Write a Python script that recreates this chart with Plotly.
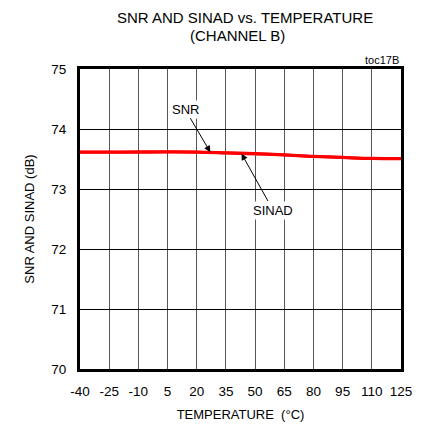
import plotly.graph_objects as go

temps = [-40, -25, -10, 5, 20, 35, 50, 65, 80, 95, 110, 125]
snr = [73.617, 73.618, 73.619, 73.620, 73.618, 73.605, 73.590, 73.570, 73.545, 73.528, 73.512, 73.508]
sinad = [73.612, 73.613, 73.614, 73.615, 73.613, 73.600, 73.585, 73.565, 73.540, 73.523, 73.507, 73.503]
xticks = [-40, -25, -10, 5, 20, 35, 50, 65, 80, 95, 110, 125]
yticks = [70, 71, 72, 73, 74, 75]

FONT = "Liberation Sans, Arial, sans-serif"

fig = go.Figure()
fig.add_trace(go.Scatter(x=temps, y=sinad, mode="lines", line=dict(color="#ff0000", width=3, shape="spline"), showlegend=False))
fig.add_trace(go.Scatter(x=temps, y=snr, mode="lines", line=dict(color="#ff0000", width=3, shape="spline"), showlegend=False))

fig.update_layout(
    width=427, height=428,
    margin=dict(l=80, r=26, t=69, b=59),
    paper_bgcolor="white", plot_bgcolor="white",
    font=dict(family=FONT, size=13, color="black"),
    xaxis=dict(range=[-40, 125], tickvals=xticks, ticktext=[str(t) for t in xticks],
               showgrid=True, gridcolor="#555555", gridwidth=1.2,
               showline=True, linecolor="black", linewidth=3, mirror=True,
               ticks="", ticklabelstandoff=8, zeroline=False, tickfont=dict(size=13.5),
               automargin=False,
               title=dict(text="TEMPERATURE  (°C)", font=dict(size=13), standoff=12)),
    yaxis=dict(range=[70, 75], tickvals=yticks,
               showgrid=True, gridcolor="black", gridwidth=1,
               showline=True, linecolor="black", linewidth=3, mirror=True,
               ticks="", ticklabelstandoff=8, zeroline=False, tickfont=dict(size=13.5),
               automargin=False,
               title=dict(text="SNR AND SINAD (dB)", font=dict(size=13), standoff=14)),
    annotations=[
        dict(x=0.514, y=(369 - 17.5) / 300, xref="paper", yref="paper",
             text="SNR AND SINAD vs. TEMPERATURE",
             showarrow=False, xanchor="center", yanchor="middle", font=dict(size=15)),
        dict(x=0.492, y=(369 - 35) / 300, xref="paper", yref="paper",
             text="(CHANNEL B)",
             showarrow=False, xanchor="center", yanchor="middle", font=dict(size=15)),
        dict(x=27, y=73.612, xref="x", yref="y", ax=14, ay=74.33, axref="x", ayref="y",
             text="SNR", showarrow=True, arrowhead=2, arrowsize=1.3, arrowwidth=1, arrowcolor="black",
             bgcolor="white", font=dict(size=13)),
        dict(x=43, y=73.59, xref="x", yref="y", ax=59.2, ay=72.65, axref="x", ayref="y",
             text="SINAD", showarrow=True, arrowhead=2, arrowsize=1.3, arrowwidth=1, arrowcolor="black",
             bgcolor="white", font=dict(size=13)),
        dict(x=1, y=1, xref="paper", yref="paper", text="toc17B", showarrow=False,
             xanchor="right", yanchor="bottom", yshift=1, font=dict(size=11)),
    ],
)

fig.write_html("out.html", config={"displayModeBar": False},
               post_script="document.body.style.margin='0';")
